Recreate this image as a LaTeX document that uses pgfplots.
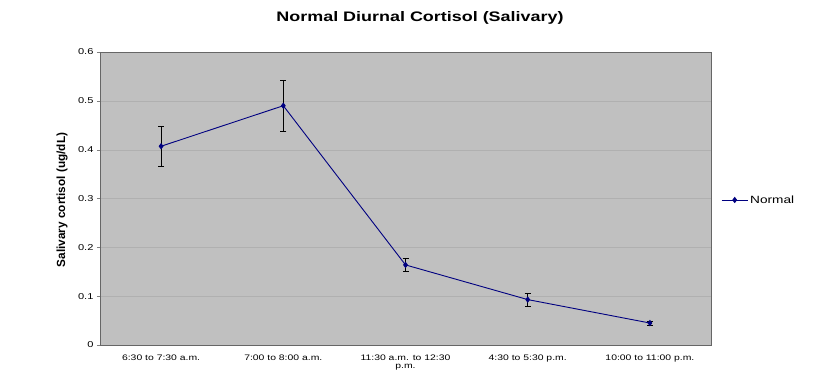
\documentclass[border=0pt]{standalone}
\usepackage{pgfplots}
\pgfplotsset{compat=1.18}
\usepackage{fontspec}
\setmainfont{Liberation Sans}[FakeStretch=1.3]
\newfontfamily\plainfont{Liberation Sans}
\definecolor{plotbg}{HTML}{C0C0C0}
\definecolor{navy}{HTML}{000080}
\begin{document}
\begin{tikzpicture}
\useasboundingbox (-100pt,-30pt) rectangle (729pt,345pt);
\begin{axis}[
  at={(0pt,0pt)}, anchor=south west,
  scale only axis, width=611pt, height=293pt,
  xmin=-0.5, xmax=4.5, ymin=0, ymax=0.6,
  ytick={0,0.1,...,0.6},
  yticklabel style={/pgf/number format/fixed,/pgf/number format/precision=1, font=\fontsize{8.5}{9}\selectfont},
  /pgf/number format/assume math mode=true,
  xtick={0,1,2,3,4},
  xticklabels={6:30 to 7:30 a.m.,7:00 to 8:00 a.m.,{11:30 a.m. to 12:30\\p.m.},4:30 to 5:30 p.m.,10:00 to 11:00 p.m.},
  xticklabel style={align=center, font=\fontsize{8}{8.5}\selectfont, yshift=-3pt},
  major x tick style={draw=none},
  ytick pos=left,
  tick align=outside, major tick length=3pt,
  axis background/.style={fill=plotbg},
  axis line style={draw=gray!80!black},
  ymajorgrids, grid style={draw=black!31, line width=0.3pt},
  legend style={at={(1.014,0.495)}, anchor=west, draw=none, fill=white, font=\fontsize{10.5}{11}\selectfont, inner sep=1.5pt},
  legend image code/.code={\draw[#1, mark repeat=2, mark phase=2] plot coordinates {(0pt,0pt) (13pt,0pt) (26pt,0pt)};},
  legend cell align=left,
]
\addplot[color=navy, line width=0.9pt, mark=diamond*, mark size=2.5pt, mark options={fill=navy, draw=navy},
  error bars/.cd, y dir=both, y explicit, error bar style={black, line width=0.8pt}, error mark options={rotate=90, mark size=3pt, black, line width=0.8pt}]
  coordinates {
  (0,0.407) +- (0,0.041)
  (1,0.490) +- (0,0.052)
  (2,0.164) +- (0,0.014)
  (3,0.093) +- (0,0.013)
  (4,0.045) +- (0,0.004)
  };
\addlegendentry{Normal}
\end{axis}
\node[rotate=90, font=\plainfont\bfseries\fontsize{11.8}{13}\selectfont] at (-38pt,145pt) {Salivary cortisol (ug/dL)};
\node[font=\bfseries\fontsize{13.8}{15}\selectfont] at (320pt,327pt) {Normal Diurnal Cortisol (Salivary)};
\end{tikzpicture}
\end{document}
